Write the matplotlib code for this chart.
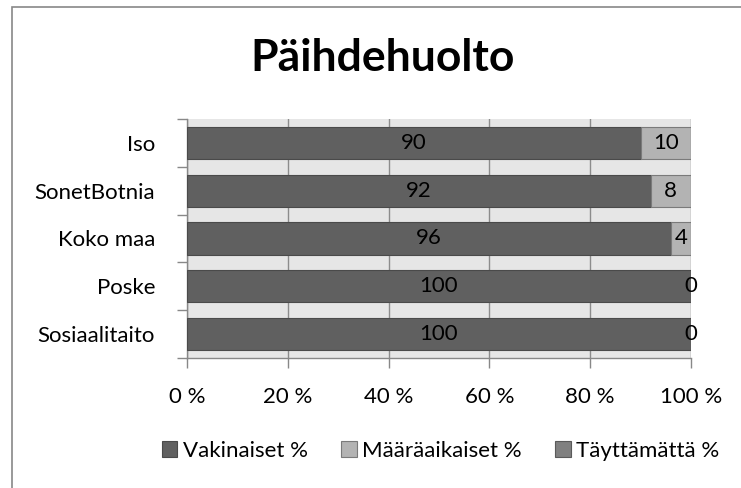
import matplotlib
matplotlib.use("Agg")
import matplotlib.pyplot as plt
from matplotlib.patches import Rectangle
import numpy as np

categories = ["Sosiaalitaito", "Poske", "Koko maa", "SonetBotnia", "Iso"]
vakinaiset = [100, 100, 96, 92, 90]
maaraaikaiset = [0, 0, 4, 8, 10]
tayttamatta = [0, 0, 0, 0, 0]
series_names = ["Vakinaiset %", "Määräaikaiset %", "Täyttämättä %"]
xticks = [0, 20, 40, 60, 80, 100]
xtick_labels = ["0 %", "20 %", "40 %", "60 %", "80 %", "100 %"]
title = "Päihdehuolto"

plt.rcParams['font.family'] = ['Lato', 'DejaVu Sans']
FS = 16

fig = plt.figure(figsize=(7.41, 4.88), dpi=100)
fig.patch.set_facecolor("white")
# outer chart border (left/top visible)
fig.add_artist(Rectangle((12/741, -0.1), 1.0, 1.1 - 7/488, transform=fig.transFigure,
                         fill=False, edgecolor="#888888", linewidth=1.2))

ax = fig.add_axes([187/741, 1-358/488, 504/741, 239/488])
ax.set_facecolor("#e6e6e6")

y = np.arange(len(categories))
colors = ["#606060", "#b3b3b3", "#808080"]
edges = ["#4a4a4a", "#7a7a7a", "#5a5a5a"]
left = np.zeros(len(categories))
all_series = [vakinaiset, maaraaikaiset, tayttamatta]
bars = []
for i, (vals, name) in enumerate(zip(all_series, series_names)):
    b = ax.barh(y, vals, left=left, height=0.67, color=colors[i], edgecolor=edges[i],
                linewidth=0.8, label=name, zorder=3)
    bars.append(b)
    if i < 2:
        for yy, v, l in zip(y, vals, left):
            ax.text(l + v / 2 if v > 0 else l, yy, str(v), ha="center", va="center",
                    fontsize=FS, color="black", zorder=4)
    left = left + np.array(vals)

ax.set_xlim(0, 100)
ax.set_ylim(-0.5, len(categories) - 0.5)
ax.set_xticks(xticks)
ax.set_xticklabels(xtick_labels, fontsize=FS)
ax.set_yticks(y)
ax.set_yticklabels(categories, fontsize=FS)
ax.tick_params(axis="y", length=0, pad=23)
ax.set_yticks(np.arange(-0.5, len(categories)), minor=True)
ax.tick_params(axis="y", which="minor", length=7, color="#888888", width=1)
ax.tick_params(axis="x", length=7, color="#888888", width=1, pad=14)
ax.grid(axis="x", color="#8c8c8c", linewidth=1, zorder=1)
ax.set_axisbelow(True)
for s in ["top", "right"]:
    ax.spines[s].set_visible(False)
for s in ["left", "bottom"]:
    ax.spines[s].set_color("#888888")
    ax.spines[s].set_linewidth(1)

fig.text(0.5 + 12/741, 1 - 58/488, title, ha="center", va="center", fontsize=32,
         fontweight="bold")

leg = fig.legend(handles=bars, labels=series_names, loc="center",
                 bbox_to_anchor=(0.5 + 70/741, 1 - 451/488), ncol=3, frameon=False,
                 fontsize=FS, handlelength=0.7, handleheight=0.7, handletextpad=0.25,
                 columnspacing=1.5)

fig.savefig("out.png", dpi=100)
